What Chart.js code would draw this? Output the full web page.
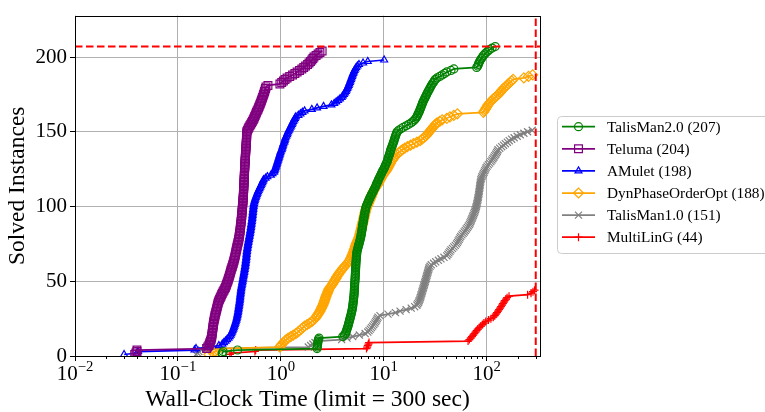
<!DOCTYPE html>
<html>
<head>
<meta charset="utf-8">
<script src="https://cdn.jsdelivr.net/npm/chart.js"></script>
<style>
  html, body { margin: 0; padding: 0; background: #fff; }
  canvas { display: block; }
</style>
</head>
<body>
<canvas id="cactus" width="765" height="412"></canvas>
<script>
// sorted wall-clock times (sec) of the solved instances;
// the k-th time is plotted at "k instances solved"
const talisman2Times = [
  0.27, 0.27, 0.275, 0.38,
  2.25, 2.26, 2.27, 2.28, 2.29, 2.3, 2.32, 2.35,
  4.0,
  4.15, 4.25, 4.3, 4.35, 4.4, 4.45, 4.5, 4.54, 4.58, 4.62, 4.66, 4.7, 4.74, 4.78, 4.82, 4.86, 4.9,
  4.93, 4.96, 4.99, 5.01, 5.03, 5.05, 5.07, 5.09, 5.11, 5.13, 5.15, 5.16, 5.17, 5.18, 5.19, 5.2, 5.21, 5.22, 5.23, 5.25,
  5.26, 5.27, 5.28, 5.29, 5.3, 5.31, 5.32, 5.33, 5.34, 5.35, 5.36, 5.37, 5.38, 5.4, 5.41, 5.42, 5.44, 5.46, 5.48, 5.5,
  5.55, 5.6, 5.65, 5.7, 5.75, 5.8, 5.85, 5.9, 5.95, 6.0, 6.03, 6.06, 6.1, 6.13, 6.17, 6.2, 6.23, 6.26, 6.3, 6.33,
  6.37, 6.4, 6.44, 6.48, 6.52, 6.56, 6.6, 6.65, 6.7, 6.75,
  6.85, 6.95, 7.05, 7.15, 7.25, 7.35, 7.5, 7.6, 7.75, 7.9, 8.0, 8.15, 8.3, 8.4, 8.5, 8.65, 8.8, 8.9, 9.05, 9.2,
  9.35, 9.5, 9.65, 9.8, 10.0, 10.15, 10.3, 10.45, 10.6, 10.8, 10.9, 11.0, 11.1, 11.25, 11.4, 11.5, 11.6, 11.7, 11.85, 12.0,
  12.15, 12.3, 12.45, 12.6, 12.7, 12.85, 13.0, 13.15, 13.3, 13.5,
  14.0, 14.7, 15.5, 16.5, 17.5, 18.5, 19.3, 20, 20.5, 21,
  21.3, 21.6, 22, 22.3, 22.6, 22.9, 23.2, 23.5, 23.8, 24.1, 24.5, 24.9, 25.3, 25.7, 26.1, 26.5,
  27, 27.5, 28, 28.5, 29, 29.6, 30.3, 31, 31.6, 33, 35, 37, 39, 41, 45, 48,
  80, 82, 83, 84, 85.5, 87, 89, 91, 93, 96, 99, 103, 107, 113, 121
];
const telumaTimes = [
  0.038, 0.039, 0.04, 0.04, 0.19,
  0.195, 0.2, 0.202, 0.205, 0.207, 0.21, 0.212,
  0.213, 0.214, 0.215, 0.216, 0.217, 0.218, 0.219, 0.22, 0.221, 0.222, 0.223, 0.225, 0.226,
  0.228, 0.229, 0.231, 0.233, 0.235, 0.237, 0.239, 0.241, 0.243, 0.245, 0.247, 0.25,
  0.254, 0.258, 0.262, 0.266, 0.27, 0.275, 0.28, 0.285, 0.29, 0.294, 0.297, 0.301, 0.305,
  0.308, 0.311, 0.315, 0.318, 0.321, 0.324, 0.327, 0.33, 0.334, 0.338, 0.341, 0.345, 0.348, 0.351, 0.354, 0.357, 0.36, 0.362, 0.365, 0.367,
  0.37, 0.373, 0.375, 0.378, 0.381, 0.384, 0.387, 0.39, 0.392, 0.394, 0.396, 0.398, 0.4, 0.402, 0.403, 0.405, 0.406, 0.408, 0.41, 0.411,
  0.413, 0.414, 0.416, 0.417, 0.418, 0.419, 0.42, 0.422, 0.423, 0.424, 0.425, 0.427, 0.428,
  0.429, 0.43, 0.431, 0.432, 0.433, 0.434, 0.434, 0.435, 0.436, 0.437, 0.437, 0.438, 0.439, 0.44, 0.44, 0.441, 0.442,
  0.442, 0.443, 0.444, 0.444, 0.445, 0.446, 0.447, 0.447, 0.448, 0.449, 0.45, 0.451, 0.452, 0.453, 0.454, 0.455, 0.456, 0.457, 0.458, 0.459,
  0.46, 0.461, 0.462, 0.463, 0.464, 0.465, 0.466, 0.466, 0.467, 0.467,
  0.475, 0.483, 0.49, 0.5, 0.51, 0.52, 0.53, 0.54, 0.548, 0.556, 0.565, 0.573, 0.58, 0.59, 0.6,
  0.608, 0.617, 0.625, 0.633, 0.642, 0.65, 0.657, 0.665, 0.673, 0.68, 0.688, 0.695, 0.703, 0.71, 0.718, 0.75,
  0.98, 1.02, 1.06, 1.1, 1.15, 1.22, 1.3, 1.37, 1.44, 1.52, 1.6, 1.67, 1.74, 1.82, 1.88, 1.94, 2.0, 2.05, 2.1,
  2.2, 2.3, 2.4, 2.52
];
const amuletTimes = [
  0.03, 0.04, 0.041, 0.145, 0.15,
  0.2, 0.25, 0.27, 0.28, 0.29, 0.3, 0.31,
  0.318, 0.325, 0.33, 0.335, 0.34, 0.345, 0.349, 0.353, 0.357, 0.361, 0.365, 0.369, 0.372,
  0.375, 0.378, 0.38, 0.383, 0.385, 0.387, 0.389, 0.391, 0.393, 0.395, 0.397, 0.399, 0.401, 0.402, 0.403,
  0.405, 0.407, 0.409, 0.41, 0.412, 0.414, 0.417, 0.42, 0.422, 0.425,
  0.427, 0.43, 0.432, 0.435, 0.437, 0.44, 0.442, 0.445, 0.447, 0.45, 0.452, 0.454, 0.456, 0.458, 0.46, 0.462, 0.463, 0.465, 0.466, 0.468,
  0.47, 0.473, 0.475, 0.478, 0.48, 0.483, 0.486, 0.489, 0.492, 0.495, 0.498, 0.501, 0.504, 0.507, 0.51, 0.512, 0.515, 0.517, 0.52, 0.522,
  0.525, 0.527, 0.529, 0.531, 0.533, 0.535, 0.537, 0.539, 0.541, 0.543, 0.546, 0.548,
  0.553, 0.558, 0.563, 0.57, 0.577, 0.585, 0.592, 0.6, 0.61, 0.62, 0.63, 0.64, 0.65, 0.66, 0.67, 0.68, 0.71, 0.74,
  0.8, 0.83, 0.86, 0.87, 0.88, 0.89, 0.9, 0.91,
  0.92, 0.93, 0.94, 0.95, 0.96, 0.97, 0.98, 0.99, 1.0, 1.02, 1.03, 1.04, 1.05, 1.06, 1.08, 1.09, 1.1, 1.11, 1.13, 1.15,
  1.16, 1.18, 1.2, 1.22, 1.24, 1.26, 1.28, 1.3, 1.32, 1.35, 1.37, 1.4,
  1.48, 1.55, 1.62, 1.7, 2.0, 2.25, 2.6, 3.1,
  3.3, 3.45, 3.6, 3.75, 3.9, 4.0, 4.1, 4.2, 4.28, 4.35, 4.42, 4.5, 4.56, 4.62, 4.68, 4.74, 4.8,
  4.86, 4.92, 4.98, 5.05, 5.12, 5.2, 5.3, 5.4, 5.55, 5.75, 6.3, 7.0, 10.1
];
const dynPhaseTimes = [
  0.2, 0.22, 0.23, 0.24, 0.25,
  0.98, 1.0, 1.03, 1.06, 1.09, 1.13, 1.18,
  1.25, 1.32, 1.4, 1.46, 1.52, 1.58, 1.64, 1.7, 1.8, 1.9, 2.0, 2.07, 2.15,
  2.2, 2.25, 2.3, 2.35, 2.4, 2.44, 2.48, 2.52, 2.56, 2.6, 2.63, 2.66, 2.69, 2.72, 2.75,
  2.79, 2.83, 2.87, 2.9, 2.95, 3.02, 3.1, 3.17, 3.24, 3.3,
  3.37, 3.44, 3.5, 3.58, 3.66, 3.75, 3.85, 3.95, 4.05, 4.15, 4.3, 4.45, 4.55, 4.65, 4.75, 4.82, 4.9, 4.96, 5.03, 5.1,
  5.15, 5.22, 5.28, 5.34, 5.4, 5.48, 5.56, 5.64, 5.72, 5.8, 5.85, 5.9, 5.95, 6.0, 6.05, 6.1, 6.15, 6.2, 6.25, 6.3,
  6.35, 6.4, 6.45, 6.5, 6.55, 6.6, 6.66, 6.72, 6.8, 6.9,
  7.0, 7.1, 7.2, 7.3, 7.4, 7.5, 7.6, 7.7, 7.8, 7.9, 8.05, 8.2, 8.4, 8.6, 8.8, 8.95, 9.1, 9.3, 9.45, 9.6,
  9.85, 10.1, 10.35, 10.6, 10.8, 11.0, 11.2, 11.4, 11.6, 11.8, 12.1, 12.4, 12.7, 13.0, 13.4,
  14.0, 14.6, 15.2, 16.0, 17.0, 18.2, 19.5, 21, 22.6, 23.5, 24.5, 25.5, 26.3, 27, 27.7,
  28.5, 29.3, 30.2, 31, 31.8, 33, 35, 37, 41, 44, 48, 52,
  93, 95, 97, 99, 101, 103, 106, 109, 112, 116, 121, 125, 130, 134, 138, 141, 146, 152, 157, 162,
  168, 175, 181, 230, 255, 280
];
const talisman1Times = [
  0.15, 0.155, 0.16, 0.17, 0.19,
  1.85, 1.95, 2.05, 2.15, 2.3,
  3.9, 4.4, 5.0, 5.8, 6.6, 7.0,
  7.2, 7.4, 7.6, 7.8, 8.0, 8.2, 8.35, 8.5, 8.65, 8.8, 9.2,
  11, 13, 14.4, 16.5, 18.5, 20, 21,
  21.4, 21.8, 22.1, 22.4, 22.7, 22.9, 23.1, 23.4, 23.6, 23.8, 24.1, 24.3, 24.6, 24.8, 25.1,
  25.3, 25.6, 25.8, 26.1, 26.3, 26.6, 26.8, 27.1, 27.3, 27.6, 28.2, 29,
  30.5, 32, 34, 36, 38.5, 41,
  42, 43, 44, 45, 46.5, 48, 49.5, 51, 52, 53, 54, 55, 56, 57.5, 59, 60.5, 62, 63.5, 65, 66.5, 68, 69, 70,
  71, 72, 73, 74, 75, 76, 77, 77.8, 78.6, 79.3, 80, 80.6, 81.2, 81.8, 82.3,
  82.8, 83.3, 83.8, 84.2, 84.6, 85, 85.4, 85.8, 86.2, 86.6, 87, 87.5, 88, 89, 90,
  91.5, 93, 94.5, 96, 97.5, 99, 101, 104, 107, 110, 112.5, 115, 117.5, 120, 122.5,
  125, 127, 129, 134, 140, 146, 152, 159, 166, 175, 185, 198, 212, 230, 250, 277
];
const multiLingTimes = [
  0.32, 0.33, 0.56, 0.57, 6.8, 6.9, 7.0, 7.1, 7.2,
  66, 68, 70, 72, 74, 76, 78, 80, 82, 85, 88, 91, 94, 98,
  104, 110, 116, 120, 123, 126, 129, 132, 135, 138, 141, 144, 147, 150, 154, 158, 165,
  250, 270, 282, 292
];

const seriesNames  = ['TalisMan2.0', 'Teluma', 'AMulet', 'DynPhaseOrderOpt', 'TalisMan1.0', 'MultiLinG'];
const solvedCounts = [207, 204, 198, 188, 151, 44];
const seriesTimes  = [talisman2Times, telumaTimes, amuletTimes, dynPhaseTimes, talisman1Times, multiLingTimes];

const timeLimit  = 300;
const bestSolved = 207;
const xDecades   = [-2, -1, 0, 1, 2];
const yTicks     = [0, 50, 100, 150, 200];

// styles
const colors  = ['green', 'purple', 'blue', 'orange', 'gray', 'red'];
const markers = ['circle', 'rect', 'triangle', 'rectRot', 'crossRot', 'cross'];
const radii   = [4, 5.5, 4, 5, 5, 4];
const SERIF   = "'Liberation Serif', 'Times New Roman', serif";

const isDecade = v => Math.abs(Math.log10(v) - Math.round(Math.log10(v))) < 1e-9;

const datasets = seriesTimes.map((times, i) => ({
  label: `${seriesNames[i]} (${solvedCounts[i]})`,
  data: times.map((t, k) => ({ x: t, y: k + 1 })),
  borderColor: colors[i],
  borderWidth: 1.75,
  pointStyle: markers[i],
  pointRadius: radii[i],
  pointBorderColor: colors[i],
  pointBackgroundColor: 'rgba(0,0,0,0)',
  pointBorderWidth: 1.2,
  fill: false,
  tension: 0,
  order: i + 1,
}));

// reference lines: best solved count and the time limit
const refStyle = { borderColor: 'red', borderWidth: 2, borderDash: [7.5, 3.5], pointRadius: 0, fill: false, order: 0, isRef: true };
datasets.push({ ...refStyle, label: 'best', data: [{ x: 0.01, y: bestSolved }, { x: timeLimit * 1.1, y: bestSolved }] });
datasets.push({ ...refStyle, label: 'limit', data: [{ x: timeLimit, y: 0 }, { x: timeLimit, y: bestSolved * 1.1 }] });

const frame = {
  id: 'frame',
  afterDatasetsDraw(chart) {
    const { ctx, chartArea: a, scales: { x } } = chart;
    ctx.save();
    ctx.strokeStyle = '#000';
    ctx.lineWidth = 1;
    ctx.beginPath();
    x.ticks.forEach(t => {
      if (isDecade(t.value)) return;
      const px = Math.round(x.getPixelForValue(t.value)) + 0.5;
      ctx.moveTo(px, a.bottom);
      ctx.lineTo(px, a.bottom + 3);
    });
    ctx.stroke();
    ctx.strokeRect(Math.round(a.left) + 0.5, Math.round(a.top) + 0.5,
                   Math.round(a.right) - Math.round(a.left), Math.round(a.bottom) - Math.round(a.top));

    // x tick labels: 10 with a raised exponent
    ctx.fillStyle = '#000';
    ctx.textBaseline = 'alphabetic';
    ctx.textAlign = 'left';
    xDecades.forEach(d => {
      const px = x.getPixelForValue(Math.pow(10, d));
      const exp = String(d).replace('-', '\u2212');
      ctx.font = `21px ${SERIF}`;
      const wb = ctx.measureText('10').width;
      ctx.font = `14.7px ${SERIF}`;
      const we = ctx.measureText(exp).width;
      const x0 = px - (wb + we) / 2;
      ctx.font = `21px ${SERIF}`;
      ctx.fillText('10', x0, a.bottom + 24);
      ctx.font = `14.7px ${SERIF}`;
      ctx.fillText(exp, x0 + wb, a.bottom + 14.5);
    });
    ctx.restore();
  },
  afterDraw(chart) {
    const { ctx } = chart;
    ctx.save();
    const bx = 557.5, by = 116.5, bw = 260, bh = 137, r = 4;
    ctx.beginPath();
    ctx.moveTo(bx + r, by);
    ctx.arcTo(bx + bw, by, bx + bw, by + bh, r);
    ctx.arcTo(bx + bw, by + bh, bx, by + bh, r);
    ctx.arcTo(bx, by + bh, bx, by, r);
    ctx.arcTo(bx, by, bx + bw, by, r);
    ctx.closePath();
    ctx.fillStyle = 'rgba(255,255,255,0.8)';
    ctx.fill();
    ctx.strokeStyle = '#cccccc';
    ctx.lineWidth = 1;
    ctx.stroke();

    ctx.font = `15.3px ${SERIF}`;
    ctx.textBaseline = 'middle';
    ctx.textAlign = 'left';
    chart.data.datasets.filter(ds => !ds.isRef).forEach((ds, i) => {
      const y = 126.7 + i * 22.1;
      ctx.strokeStyle = ds.borderColor;
      ctx.lineWidth = ds.borderWidth;
      ctx.beginPath();
      ctx.moveTo(562, y);
      ctx.lineTo(595, y);
      ctx.stroke();
      ctx.lineWidth = ds.pointBorderWidth;
      ctx.fillStyle = 'rgba(0,0,0,0)';
      Chart.helpers.drawPoint(ctx, { pointStyle: ds.pointStyle, radius: ds.pointRadius, rotation: 0, borderWidth: ds.pointBorderWidth }, 578.5, y);
      ctx.fillStyle = '#000';
      ctx.fillText(ds.label, 607, y + 1);
    });
    ctx.restore();
  }
};

new Chart(document.getElementById('cactus'), {
  type: 'line',
  data: { datasets },
  plugins: [frame],
  options: {
    responsive: false,
    animation: false,
    devicePixelRatio: 1,
    layout: { padding: { left: 0, right: 225, top: 11, bottom: 0 } },
    plugins: { legend: { display: false }, tooltip: { enabled: false } },
    scales: {
      x: {
        type: 'logarithmic',
        min: 0.01,
        max: timeLimit * 1.1,
        afterBuildTicks: axis => {
          const ticks = [];
          xDecades.forEach(d => {
            for (let m = 1; m <= 9; m++) {
              const v = m * Math.pow(10, d);
              if (v <= timeLimit * 1.1) ticks.push({ value: v });
            }
          });
          axis.ticks = ticks;
        },
        afterFit: axis => { axis.height = 56; },
        border: { display: false },
        grid: {
          color: c => (c.tick && isDecade(c.tick.value) ? '#b0b0b0' : 'rgba(0,0,0,0)'),
          tickColor: c => (c.tick && isDecade(c.tick.value) ? '#000' : 'rgba(0,0,0,0)'),
          tickLength: 5,
          lineWidth: 1,
        },
        ticks: { autoSkip: false, maxRotation: 0, callback: () => '', font: { size: 21, family: SERIF } },
        title: {
          display: true,
          text: 'Wall-Clock Time (limit = 300 sec)',
          color: '#000',
          font: { size: 23.5, family: SERIF, lineHeight: 1 },
          padding: { top: 0, bottom: 0 },
        },
      },
      y: {
        type: 'linear',
        min: 0,
        max: bestSolved * 1.1,
        afterBuildTicks: axis => { axis.ticks = yTicks.map(v => ({ value: v })); },
        afterFit: axis => { axis.width = 75; },
        border: { display: false },
        grid: { color: '#b0b0b0', tickColor: '#000', tickLength: 5, lineWidth: 1 },
        ticks: { color: '#000', padding: 3, font: { size: 21, family: SERIF } },
        title: {
          display: true,
          text: 'Solved Instances',
          color: '#000',
          font: { size: 23.5, family: SERIF, lineHeight: 1 },
          padding: { top: 6, bottom: 0 },
        },
      },
    },
  },
});
</script>
</body>
</html>
